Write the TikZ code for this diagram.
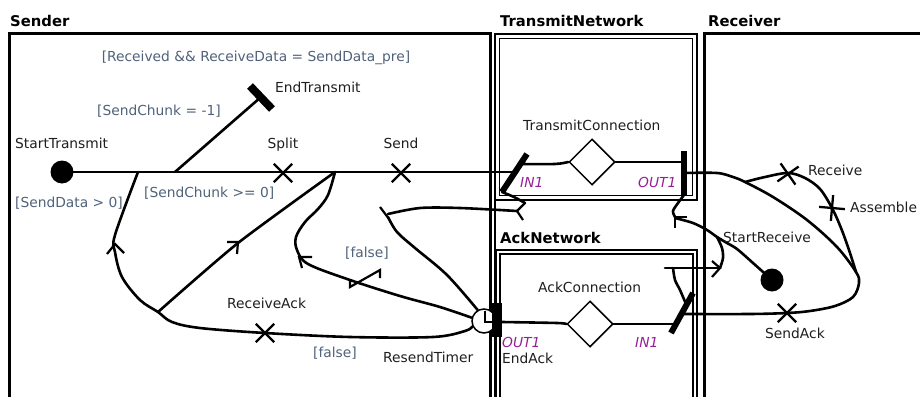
\documentclass[tikz,border=0pt]{standalone}
\usepackage{fontspec}
\setmainfont{DejaVu Sans}[ItalicFont={DejaVu Sans Oblique},BoldFont={DejaVu Sans Bold}]
\usetikzlibrary{shapes.geometric,shapes.misc}

\definecolor{guard}{RGB}{80,98,122}
\definecolor{port}{RGB}{150,30,150}
\definecolor{ink}{RGB}{30,30,30}

\begin{document}
\begin{tikzpicture}[x=1pt,y=-1pt,
  frame/.style={line width=3pt},
  dframe/.style={line width=2.4pt},
  dinner/.style={line width=1.8pt},
  upath/.style={line width=2.6pt, line join=round, line cap=round},
  bar/.style={line width=6pt},
  chev/.style={line width=2.2pt, line join=miter},
  lbl/.style={font=\fontsize{13.8}{16}\selectfont, text=ink, inner sep=0pt},
  grd/.style={lbl, text=guard},
  prt/.style={font=\fontsize{13.8}{16}\selectfont\itshape, text=port, inner sep=0pt},
  ttl/.style={font=\fontsize{14.8}{17}\selectfont\bfseries, inner sep=0pt},
  resp/.style={draw, cross out, minimum size=16pt, inner sep=0pt, line width=2.3pt},
  startpt/.style={circle, fill=black, minimum size=23pt, inner sep=0pt},
  stub/.style={diamond, draw, fill=white, minimum width=46pt, minimum height=46pt, inner sep=0pt, line width=1.5pt},
  timerpt/.style={circle, draw, fill=white, minimum size=24pt, inner sep=0pt, line width=1.5pt}
]
\useasboundingbox (0,0) rectangle (920,396);

% ---------- component frames ----------
\draw[frame] (9,400) -- (9,34) -- (490,34) -- (490,400);
\draw[dframe] (495,34) -- (495,400);
\draw[dframe] (495,34) rectangle (697,200);
\draw[dinner] (499.5,38.5) rectangle (692.5,195.5);
\draw[dframe] (496,400) -- (496,250) -- (697,250) -- (697,400);
\draw[dinner] (500,400) -- (500,254) -- (693,254) -- (693,400);
\draw[frame] (704,400) -- (704,34) -- (925,34);

\node[ttl, anchor=base west] (tSender) at (10,27) {Sender};
\node[ttl, anchor=base west] (tTrans) at (500,27) {TransmitNetwork};
\node[ttl, anchor=base west] (tRecv) at (708,27) {Receiver};
\node[ttl, anchor=base west] (tAck) at (500,243) {AckNetwork};

% ---------- key points ----------
\coordinate (jA) at (138,172);
\coordinate (jE) at (175,172);
\coordinate (jB) at (335,172);
\coordinate (jC) at (158,312);
\coordinate (endT) at (261,97);
\coordinate (in1T) at (515,172);
\coordinate (out1T) at (684,173);
\coordinate (jR) at (745,182);
\coordinate (jL) at (856,272);
\coordinate (in1A) at (682,314);

% ---------- Sender ----------
\node[startpt] (startT) at (62,172) {};
\draw[upath] (startT.center) -- (in1T);
\draw[upath] (jE) -- (endT);
\draw[line width=8pt] (250,86) -- (272,109);

\node[timerpt] (timer) at (484,321) {};
% loop back through ReceiveAck
\draw[upath] plot[smooth, tension=0.55] coordinates {(timer.205) (465,331) (433,337) (350,337) (265,333) (200,328) (172,322) (jC) (140,300) (122,277) (115,252) (115,235) (jA)};
\draw[upath] plot[smooth, tension=0.4] coordinates {(jC) (238,243) (jB)};
% timeout branch
\draw[upath] plot[smooth, tension=0.55] coordinates {(timer.165) (440,307) (400,296) (350,280) (308,264) (297,250) (296,237) (305,222) (318,209) (328,195) (jB)};
% upper branch to the transmit stub
\draw[upath] plot[smooth, tension=0.55] coordinates {(timer.120) (447,275) (415,248) (397,232) (388,217)};
\draw[upath] plot[smooth, tension=0.5] coordinates {(388,214) (420,208) (460,208) (517,211)};
\draw[chev] (380,207) -- (389,219);
\draw[upath] plot[smooth, tension=0.5] coordinates {(502,192) (514,197) (525,203)};
\draw[chev] (525,203) -- (517,211) -- (523,220);

% direction arrows
\draw[chev] (107,254) -- (115,244) -- (124,253);
\draw[chev] (227,242) -- (238,242) -- (237,254);
\draw[chev] (312,257) -- (299,257) -- (302,268);
% timeout stub
\draw[chev] (350,279) -- (350,287) -- (380,270) -- (380,278);

\node[resp] (split) at (283,173) {};
\node[resp] (send) at (401,173) {};
\node[resp] (rAck) at (265,333) {};

\node[grd, anchor=base] (gRecv) at (256,62) {[Received \&\& ReceiveData = SendData\_pre]};
\node[lbl, anchor=base west] (lEndT) at (275,92) {EndTransmit};
\node[grd, anchor=base west] (gM1) at (97,115) {[SendChunk = -1]};
\node[lbl, anchor=base west] (lStartT) at (15,148) {StartTransmit};
\node[lbl, anchor=base] (lSplit) at (283,148) {Split};
\node[lbl, anchor=base] (lSend) at (401,148) {Send};
\node[grd, anchor=base west] (gGe0) at (144,197) {[SendChunk >= 0]};
\node[grd, anchor=base west] (gSD) at (15,207) {[SendData > 0]};
\node[grd, anchor=base west] (gF1) at (345,257) {[false]};
\node[lbl, anchor=base west] (lRA) at (227,308) {ReceiveAck};
\node[grd, anchor=base west] (gF2) at (313,357) {[false]};
\node[lbl, anchor=base west] (lRT) at (383,362) {ResendTimer};

% ---------- TransmitNetwork ----------
\node[stub] (tc) at (592,162) {};
\draw[upath] plot[smooth, tension=0.5] coordinates {(520,164) (555,164) (tc.west)};
\draw[upath] (tc.east) -- (684,162);
\draw[bar] (527,154) -- (502,192);
\draw[bar] (684,151) -- (684,196);
\node[lbl, anchor=base west] (lTC) at (523,130) {TransmitConnection};
\node[prt, anchor=base west] (pIn1) at (520,187) {IN1};
\node[prt, anchor=base west] (pOut1) at (638,187) {OUT1};

% ---------- AckNetwork ----------
\node[stub] (ac) at (590,324) {};
\draw[upath] plot[smooth, tension=0.5] coordinates {(502,322) (557,323) (ac.west)};
\draw[upath] (ac.east) -- (676,324);
\draw[bar] (693,293) -- (671,333);
\draw[line width=10pt] (497,303) -- (497,337);
\draw[line width=1.5pt] (485,311) -- (485,322) -- (494,322);
\node[lbl, anchor=base west] (lAC) at (538,292) {AckConnection};
\node[prt, anchor=base west] (pOut2) at (502,347) {OUT1};
\node[lbl, anchor=base west] (lEA) at (502,363) {EndAck};
\node[prt, anchor=base west] (pIn2) at (635,347) {IN1};

% ---------- Receiver ----------
\draw[upath] plot[smooth, tension=0.55] coordinates {(out1T) (717,173) (733,177) (jR) (773,197) (807,220) (837,247) (jL) (859,283) (853,297) (835,306) (810,311) (787,313) (750,314) (in1A)};
\draw[upath] plot[smooth, tension=0.55] coordinates {(jR) (765,177) (788,173) (805,178) (820,189) (832,208) (841,228) (849,250) (jL)};

\node[startpt] (startR) at (772,280) {};
\draw[upath] plot[smooth, tension=0.5] coordinates {(684,195) (678,203) (673,211) (675,217)};
\draw[chev] (687,217) -- (675,217) -- (675,228);
\draw[upath] plot[smooth, tension=0.5] coordinates {(675,218) (693,223) (707,230) (717,237) (727,243) (737,249) (753,263) (startR.center)};
\draw[upath] plot[smooth, tension=0.5] coordinates {(717,237) (722,248) (723,258) (720,268)};
\draw[upath] (665,268) -- (720,268);
\draw[chev] (712,261) -- (720,268) -- (712,277);
\draw[upath] plot[smooth, tension=0.5] coordinates {(673,268) (675,280) (680,290) (686,304)};

\node[resp, rotate=-10] (recv) at (788,174) {};
\node[resp, rotate=40] (asm) at (832,208) {};
\node[resp] (sAck) at (787,313) {};

\node[lbl, anchor=base west] (lRecv) at (808,175) {Receive};
\node[lbl, anchor=base west] (lAsm) at (850,212) {Assemble};
\node[lbl, anchor=base west] (lSR) at (723,242) {StartReceive};
\node[lbl, anchor=base west] (lSA) at (765,338) {SendAck};
\end{tikzpicture}
\end{document}
